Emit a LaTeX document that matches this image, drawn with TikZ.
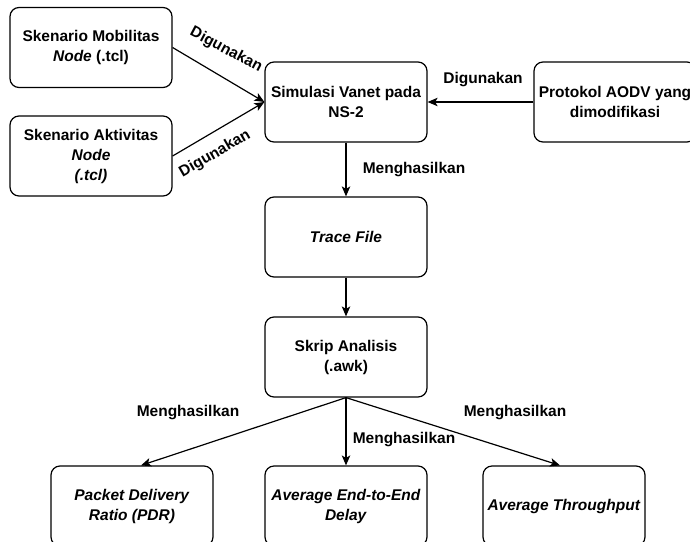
\documentclass[tikz,border=0pt]{standalone}
\usepackage{fontspec}
\setmainfont{Liberation Sans}
\usetikzlibrary{arrows.meta}
\begin{document}
\begin{tikzpicture}[x=1pt,y=-1pt,
  box/.style={draw=black, line width=1.2pt, rounded corners=9pt,
    minimum width=162pt, minimum height=80pt, align=center, inner sep=0pt,
    font=\fontsize{15.5}{20}\selectfont\bfseries},
  arr/.style={draw=black, line width=1.2pt,
    -{Stealth[length=10pt,width=8.5pt,inset=2.5pt]}},
  lbl/.style={inner sep=0pt, font=\fontsize{15.5}{19}\selectfont\bfseries}]
\useasboundingbox (0,0) rectangle (690,541);
\clip (0,0) rectangle (690,541);

% inputs of the simulation
\node[box] (mob)  at (91,47.5) {Skenario Mobilitas\\\textit{Node} (.tcl)};
\node[box] (akt)  at (91,156)  {Skenario Aktivitas\\\textit{Node}\\\textit{(.tcl)}};
\node[box] (sim)  at (346,102) {Simulasi Vanet pada\\NS-2};
\node[box] (aodv) at (615,102) {Protokol AODV yang\\dimodifikasi};

% processing chain
\node[box] (trace) at (346,237) {\textit{Trace File}};
\node[box] (skrip) at (346,357) {Skrip Analisis\\(.awk)};

% resulting metrics
\node[box] (pdr) at (132,506) {\textit{Packet Delivery}\\\textit{Ratio (PDR)}};
\node[box] (e2e) at (346,506) {\textit{Average End-to-End}\\\textit{Delay}};
\node[box] (thr) at (564,506) {\textit{Average Throughput}};

% connectors
\draw[arr] (mob.east) -- (sim.west);
\draw[arr] (akt.east) -- (sim.west);
\draw[arr] (aodv.west) -- (sim.east);
\draw[arr] (sim.south) -- (trace.north);
\draw[arr] (trace.south) -- (skrip.north);
\draw[arr] (skrip.south) -- ([xshift=9pt]pdr.north);
\draw[arr] (skrip.south) -- (e2e.north);
\draw[arr] (skrip.south) -- ([xshift=-4pt]thr.north);

% connector labels
\node[lbl, rotate=-28] (lmob)  at (226,50)  {Digunakan};
\node[lbl, rotate=30]  (lakt)  at (215,154) {Digunakan};
\node[lbl]             (laodv) at (483,80)  {Digunakan};
\node[lbl]             (lsim)  at (414,170) {Menghasilkan};
\node[lbl]             (lpdr)  at (188,413) {Menghasilkan};
\node[lbl]             (le2e)  at (404,440) {Menghasilkan};
\node[lbl]             (lthr)  at (515,413) {Menghasilkan};
\end{tikzpicture}
\end{document}
